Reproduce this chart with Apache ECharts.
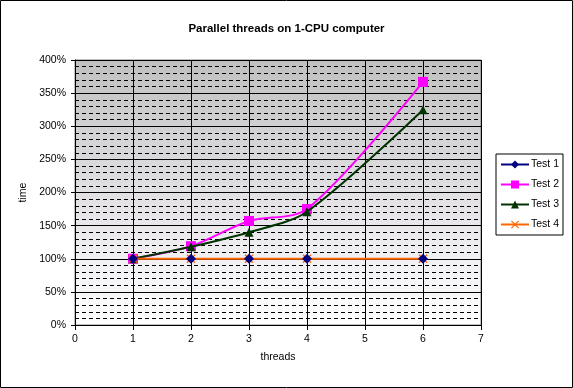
<!DOCTYPE html>
<html>
<head>
<meta charset="utf-8">
<script src="https://cdn.jsdelivr.net/npm/echarts@6/dist/echarts.min.js"></script>
<style>
html,body{margin:0;padding:0;background:#fff;}
#c{width:573px;height:388px;}
</style>
</head>
<body>
<div id="c"></div>
<script>
var threads = [1, 2, 3, 4, 6];
var test1 = [100, 100, 100, 100, 100];
var test2 = [100, 119, 157, 175, 367];
var test3 = [100, 118, 140, 171, 325];
var test4 = [100, 100, 100, 100, 100];
var seriesNames = ['Test 1', 'Test 2', 'Test 3', 'Test 4'];

function pairs(ys) { return threads.map(function (x, i) { return [x, ys[i]]; }); }

var FONT = 'Liberation Sans, Arial, sans-serif';
var xPath = 'path://M1,0L5,4L9,0L10,1L6,5L10,9L9,10L5,6L1,10L0,9L4,5L0,1Z';

var chart = echarts.init(document.getElementById('c'), null, {renderer: 'canvas'});
chart.setOption({
  backgroundColor: '#ffffff',
  animation: false,
  textStyle: {fontFamily: FONT},
  title: {
    text: 'Parallel threads on 1-CPU computer',
    left: 'center', top: 18,
    textStyle: {fontFamily: FONT, fontSize: 11.5, fontWeight: 'bold', color: '#000'}
  },
  graphic: [{
    type: 'rect', silent: true, z: 100,
    shape: {x: 0.5, y: 0.5, width: 572, height: 387},
    style: {fill: 'none', stroke: '#000', lineWidth: 1}
  }],
  legend: {
    left: 496, top: 154,
    orient: 'vertical',
    backgroundColor: '#fff',
    borderColor: '#000', borderWidth: 1,
    padding: [5, 4, 5, 4],
    itemGap: 9,
    itemWidth: 28, itemHeight: 10,
    textStyle: {fontFamily: FONT, fontSize: 10.5, color: '#000', padding: [0, 0, 0, -3]},
    data: [
      {name: seriesNames[0], itemStyle: {color: '#000080'}, lineStyle: {color: '#000080', width: 2, opacity: 1}},
      {name: seriesNames[1]},
      {name: seriesNames[2]},
      {name: seriesNames[3]}
    ]
  },
  grid: {
    left: 75, right: 92, top: 60, bottom: 63,
    show: true,
    borderColor: '#808080', borderWidth: 1,
    backgroundColor: new echarts.graphic.LinearGradient(0, 0, 0, 1, [
      {offset: 0, color: '#c0c0c0'},
      {offset: 0.6, color: '#e8e6ea'},
      {offset: 1, color: '#ffffff'}
    ])
  },
  xAxis: {
    type: 'value', min: 0, max: 7, interval: 1,
    name: 'threads', nameLocation: 'middle', nameGap: 27,
    nameTextStyle: {fontFamily: FONT, fontSize: 10.5, color: '#000'},
    axisLine: {show: true, lineStyle: {color: '#000', width: 1}},
    axisTick: {show: true, inside: false, length: 5, lineStyle: {color: '#000'}},
    axisLabel: {fontFamily: FONT, fontSize: 10.5, color: '#000', margin: 9},
    splitLine: {show: true, lineStyle: {color: '#000', width: 1, type: 'solid'}}
  },
  yAxis: {
    type: 'value', min: 0, max: 400, interval: 50,
    name: 'time', nameLocation: 'middle', nameGap: 42, nameRotate: 90,
    nameTextStyle: {fontFamily: FONT, fontSize: 10.5, color: '#000'},
    axisLine: {show: true, lineStyle: {color: '#000', width: 1}},
    axisTick: {show: true, inside: false, length: 4, lineStyle: {color: '#000'}},
    axisLabel: {fontFamily: FONT, fontSize: 10.5, color: '#000', margin: 9, formatter: '{value}%'},
    splitLine: {show: true, lineStyle: {color: '#000', width: 1, type: 'solid'}},
    minorTick: {show: false, splitNumber: 5},
    minorSplitLine: {show: true, lineStyle: {color: '#000', width: 1, type: [4, 3]}}
  },
  series: [
    {
      name: seriesNames[0], type: 'line', z: 4, smooth: 0.3,
      data: pairs(test1),
      symbol: 'diamond', symbolSize: 10,
      itemStyle: {color: '#000080'},
      lineStyle: {color: '#000080', width: 2, opacity: 0}
    },
    {
      name: seriesNames[1], type: 'line', z: 2, smooth: 0.3,
      data: pairs(test2),
      symbol: 'rect', symbolSize: 10,
      itemStyle: {color: '#ff00ff'},
      lineStyle: {color: '#ff00ff', width: 2}
    },
    {
      name: seriesNames[2], type: 'line', z: 3, smooth: 0.3,
      data: pairs(test3),
      symbol: 'triangle', symbolSize: 9,
      itemStyle: {color: '#003300'},
      lineStyle: {color: '#003300', width: 2}
    },
    {
      name: seriesNames[3], type: 'line', z: 3, smooth: 0.3,
      data: pairs(test4),
      symbol: xPath, symbolSize: 9,
      itemStyle: {color: '#ff6600'},
      lineStyle: {color: '#ff6600', width: 2}
    }
  ]
});
</script>
</body>
</html>
